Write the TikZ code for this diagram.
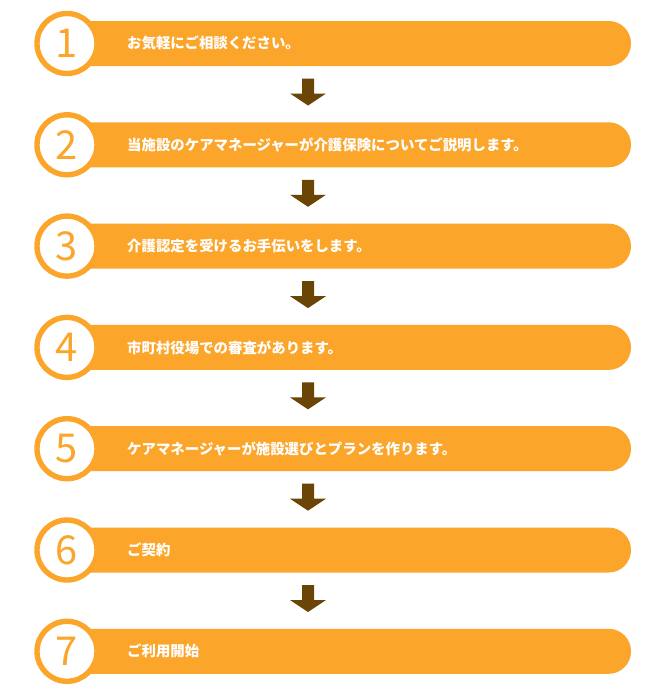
\documentclass[tikz,border=0pt]{standalone}
\usepackage{fontspec}
\setmainfont{Noto Sans CJK JP}
\usetikzlibrary{shadows}
\definecolor{stepfill}{HTML}{FBA52B}
\definecolor{arrowbrown}{HTML}{6B4505}
\begin{document}
\begin{tikzpicture}[x=0.03cm,y=-0.03cm]
  \useasboundingbox[fill=white] (0,0) rectangle (660,700);
  \tikzset{
    bar/.style={fill=stepfill},
    numcircle/.style={circle, draw=stepfill, line width=4.6pt, fill=white, minimum size=1.8cm, inner sep=0pt,
      text=stepfill, font=\fontsize{34}{34}\selectfont, drop shadow={shadow xshift=1pt, shadow yshift=-1.5pt, opacity=0.3}},
    bartext/.style={anchor=west, text=white, font=\fontsize{12.3}{13}\selectfont\bfseries, inner sep=0pt}
  }
  \foreach \i/\txt in {1/お気軽にご相談ください。,
                       2/当施設のケアマネージャーが介護保険についてご説明します。,
                       3/介護認定を受けるお手伝いをします。,
                       4/市町村役場での審査があります。,
                       5/ケアマネージャーが施設選びとプランを作ります。,
                       6/ご契約,
                       7/ご利用開始} {
    \pgfmathsetmacro{\yc}{43.5+101.3*(\i-1)}
    % bar with rounded right end
    \fill[bar] (90,\yc-22.5) [rounded corners=0.67cm] -- (631,\yc-22.5) -- (631,\yc+22.5) [sharp corners] -- (90,\yc+22.5) -- cycle;
    \node[numcircle] (n\i) at (67,\yc) {\i};
    \node[bartext] (t\i) at (127,\yc) {\txt};
    % down arrow to next step
    \ifnum\i<7
      \fill[arrowbrown] (302,\yc+35) -- (314,\yc+35) -- (314,\yc+50) -- (326,\yc+50)
        -- (308,\yc+62) -- (290,\yc+50) -- (302,\yc+50) -- cycle;
    \fi
  }
\end{tikzpicture}
\end{document}
